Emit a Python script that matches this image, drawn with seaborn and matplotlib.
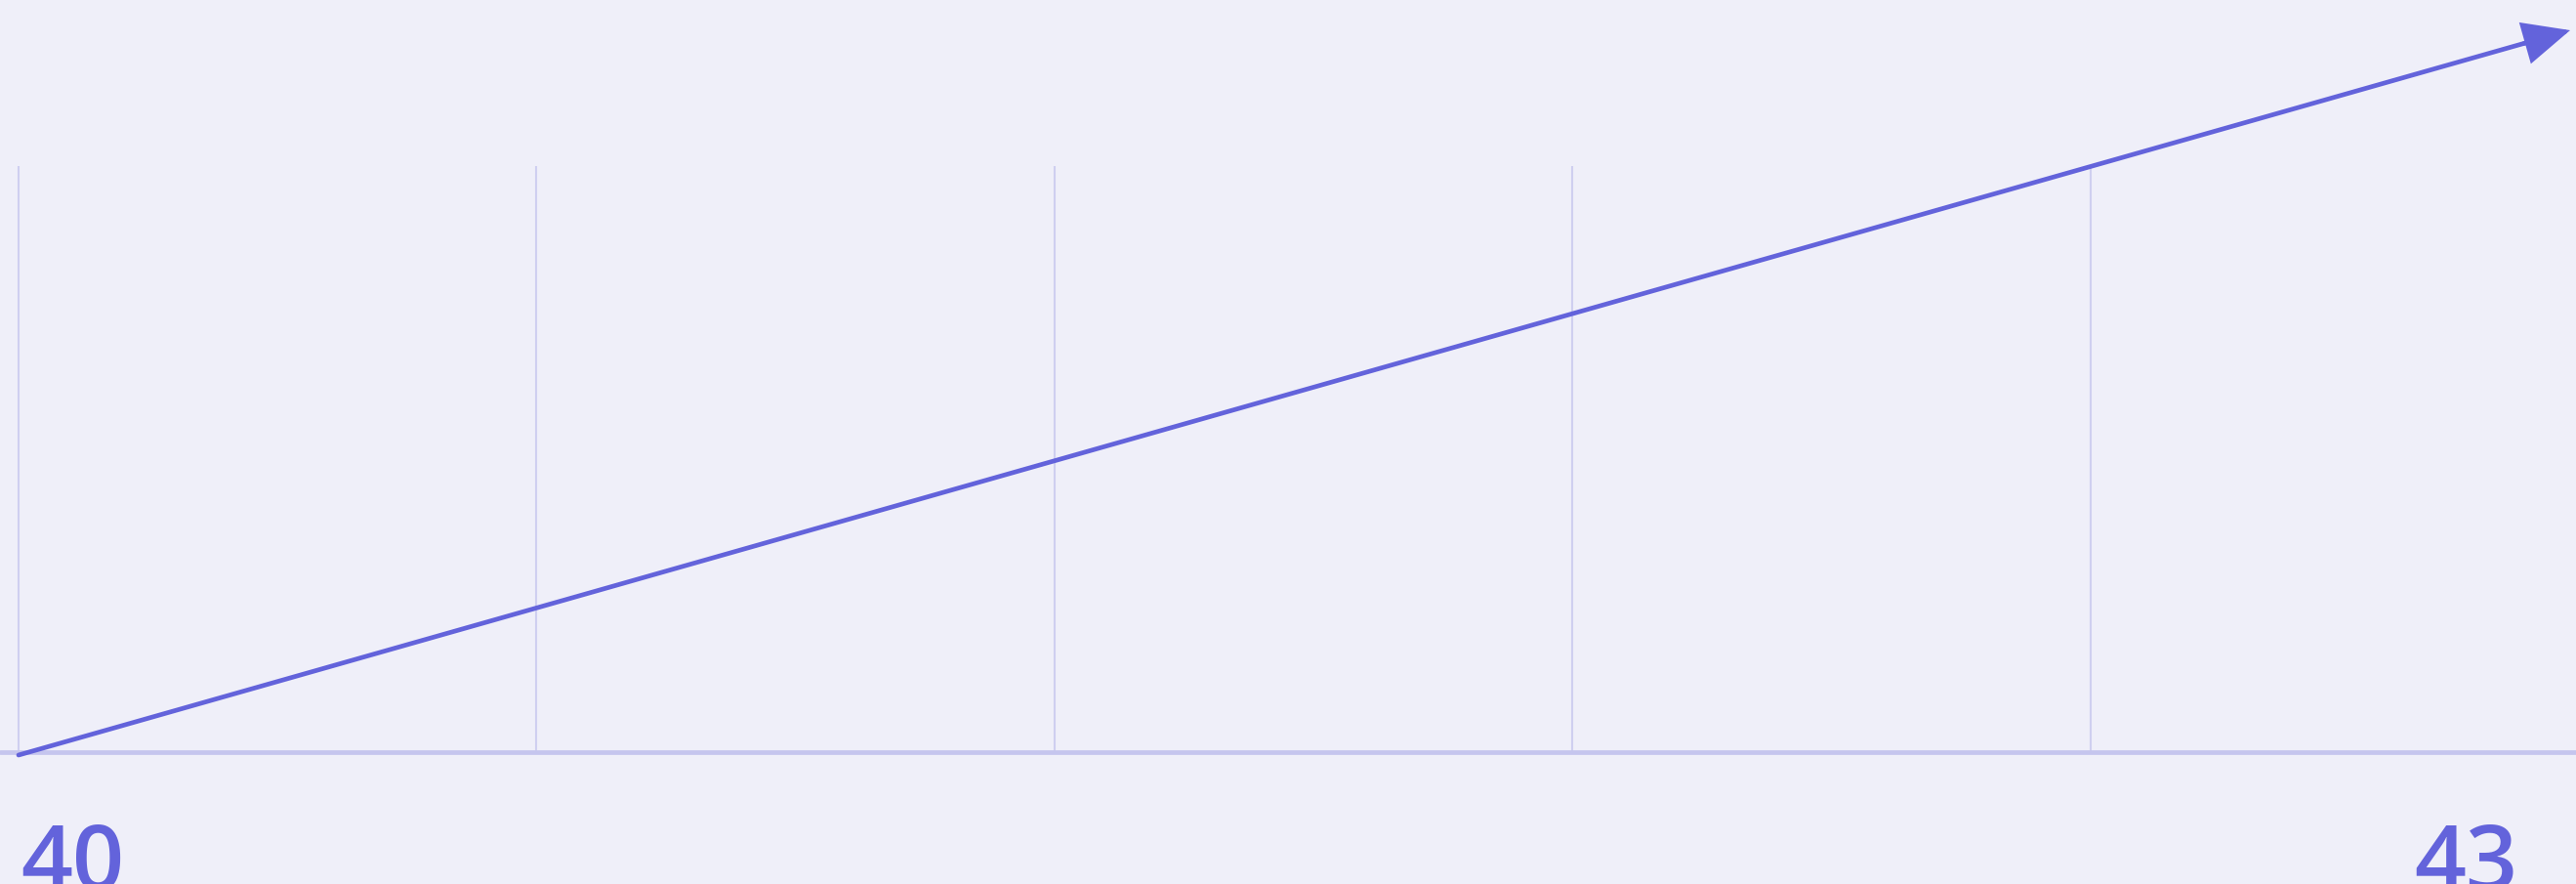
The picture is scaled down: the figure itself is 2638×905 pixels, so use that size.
import matplotlib
matplotlib.use("Agg")
import matplotlib.pyplot as plt
import seaborn as sns
import pandas as pd

# Data
start_label = "40"
end_label = "43"
values = [40, 43]
progress = [0.0, 1.0]
grid_positions = [0.0, 0.203, 0.406, 0.609, 0.812]

BG = "#EFEFF9"
MAIN = "#6363DB"
GRID = "#CFCFF0"
BASE = "#C5C5EE"

sns.set_theme(style="white")
plt.rcParams['font.family'] = ['Open Sans', 'DejaVu Sans']

fig = plt.figure(figsize=(26.38, 9.05), dpi=100, facecolor=BG)
ax = fig.add_axes([0, 0, 1, 1])
ax.set_facecolor(BG)

px_per_x = 2613.0
px_per_y = 247.33
ax.set_xlim(-19 / px_per_x, 1 + 6 / px_per_x)
ax.set_ylim(40 - 132 / px_per_y, 43 + 31 / px_per_y)

grid_top = 40 + 603 / px_per_y
ax.vlines(grid_positions, 40.012, grid_top, colors=GRID, linewidth=1.5, zorder=1)
ax.axhline(40 + 3 / px_per_y, color=BASE, linewidth=3.4, zorder=2)

# line up to just before the arrowhead
back = 0.008
x_end = progress[1] - back
slope = (values[1] - values[0]) / (progress[1] - progress[0])
y_end = values[0] + slope * (x_end - progress[0])
line_df = pd.DataFrame({"x": [progress[0], x_end], "y": [values[0], y_end]})
sns.lineplot(data=line_df, x="x", y="y", ax=ax, color=MAIN, linewidth=3.4,
             solid_capstyle="round", zorder=3)
x_from = x_end - 0.01
ax.annotate("", xy=(progress[1], values[1]), xytext=(x_from, values[0] + slope * x_from),
            arrowprops=dict(arrowstyle="-|>,head_length=2.4,head_width=1.1",
                            color=MAIN, lw=3.4, shrinkA=0, shrinkB=0,
                            joinstyle="miter"), zorder=4)

ax.annotate(start_label, xy=(progress[0], values[0]), xytext=(2, -138),
            textcoords="offset pixels", ha="left", va="baseline",
            fontsize=67, fontweight="semibold", color=MAIN)
ax.annotate(end_label, xy=(progress[1], values[0]), xytext=(-54, -138),
            textcoords="offset pixels", ha="right", va="baseline",
            fontsize=67, fontweight="semibold", color=MAIN)

ax.set_xlabel("")
ax.set_ylabel("")
ax.set_xticks([])
ax.set_yticks([])
for s in ax.spines.values():
    s.set_visible(False)
if ax.get_legend():
    ax.get_legend().remove()

fig.savefig("out.png", dpi=100, facecolor=BG)
